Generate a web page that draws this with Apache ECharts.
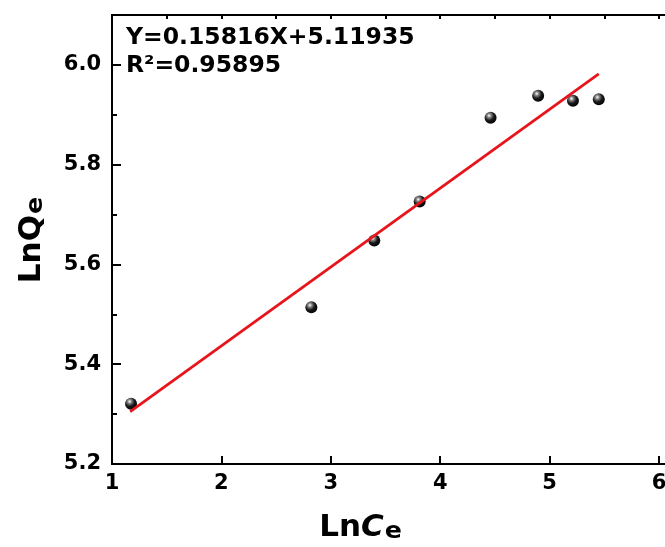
<!DOCTYPE html>
<html><head><meta charset="utf-8">
<script src="https://cdn.jsdelivr.net/npm/echarts@6/dist/echarts.min.js"></script>
<style>html,body{margin:0;padding:0;background:#fff}#c{width:665px;height:547px}</style>
</head><body><div id="c"></div>
<script>
// ---- data ----
const lnC = [1.174, 2.822, 3.397, 3.812, 4.460, 4.895, 5.213, 5.449];
const lnQ = [5.321, 5.514, 5.648, 5.726, 5.894, 5.938, 5.928, 5.931];
const fitX = [1.166, 5.449];
const fitY = [5.305, 5.982];
const xRange = [1, 6.1];
const yRange = [5.2, 6.1];
const eqText = 'Y=0.15816X+5.11935';
const r2Text = 'R²=0.95895';

const FONT = 'DejaVu Sans';
const chart = echarts.init(document.getElementById('c'), null, {renderer: 'canvas'});

const sphere = new echarts.graphic.RadialGradient(0.38, 0.32, 0.72, [
  {offset: 0, color: '#ffffff'},
  {offset: 0.22, color: '#8a8a8a'},
  {offset: 0.55, color: '#1a1a1a'},
  {offset: 1, color: '#000000'}
]);

const baseAxis = {
  axisLine: {show: true, lineStyle: {color: '#000', width: 2}},
  splitLine: {show: false}
};
const mainTok = {fontFamily: FONT, fontWeight: 'bold', fontSize: 31, color: '#000'};
const subTok = {fontFamily: FONT, fontWeight: 'bold', fontSize: 40, color: '#000'};

const option = {
  backgroundColor: '#fff',
  animation: false,
  grid: {left: 112, top: 15, width: 558, height: 449, show: true, borderColor: '#000', borderWidth: 2,
         containLabel: false, outerBoundsMode: 'none'},
  xAxis: [
    Object.assign({}, baseAxis, {
      type: 'value', min: xRange[0], max: xRange[1], interval: 1,
      axisTick: {show: true, inside: true, length: 8, lineStyle: {color: '#000', width: 2}},
      axisLabel: {color: '#000', fontFamily: FONT, fontWeight: 'bold', fontSize: 21, margin: 9,
        formatter: v => (v > 6.05 ? '' : String(v))},
      name: '{a|Ln}{i|C}{s|ₑ}',
      nameLocation: 'middle', nameGap: 44,
      nameTextStyle: {padding: [0, 60, 0, 0],
        rich: {a: mainTok, i: Object.assign({}, mainTok, {fontStyle: 'italic'}), s: subTok}}
    }),
    Object.assign({}, baseAxis, {
      type: 'value', min: xRange[0], max: xRange[1], interval: 0.5,
      axisLine: {show: false},
      axisTick: {show: true, inside: true, length: 4, lineStyle: {color: '#000', width: 2}},
      axisLabel: {show: false}
    })
  ],
  yAxis: [
    Object.assign({}, baseAxis, {
      type: 'value', min: yRange[0], max: yRange[1], interval: 0.2,
      axisTick: {show: true, inside: true, length: 9, lineStyle: {color: '#000', width: 2}},
      axisLabel: {color: '#000', fontFamily: FONT, fontWeight: 'bold', fontSize: 21, margin: 11,
        formatter: v => (v > 6.05 ? '' : v.toFixed(1))},
      name: '{a|LnQ}{s|ₑ}',
      nameLocation: 'middle', nameGap: 60, nameRotate: 90,
      nameTextStyle: {rich: {a: mainTok, s: subTok}}
    }),
    Object.assign({}, baseAxis, {
      type: 'value', min: yRange[0], max: yRange[1], interval: 0.1, position: 'left',
      axisLine: {show: false},
      axisTick: {show: true, inside: true, length: 5, lineStyle: {color: '#000', width: 2}},
      axisLabel: {show: false}
    })
  ],
  graphic: [
    {type: 'text', left: 126, top: 26, z: 100,
     style: {text: eqText, fontFamily: FONT, fontWeight: 'bold', fontSize: 23.5, fill: '#000'}},
    {type: 'text', left: 126, top: 54, z: 100,
     style: {text: r2Text, fontFamily: FONT, fontWeight: 'bold', fontSize: 23.5, fill: '#000'}}
  ],
  series: [
    {
      type: 'scatter', name: 'data', xAxisIndex: 0, yAxisIndex: 0,
      data: lnC.map((x, i) => [x, lnQ[i]]),
      symbol: 'circle', symbolSize: 12,
      itemStyle: {color: sphere, opacity: 1},
      z: 2
    },
    {
      type: 'line', name: 'fit', xAxisIndex: 0, yAxisIndex: 0,
      data: fitX.map((x, i) => [x, fitY[i]]),
      showSymbol: false, symbol: 'none',
      lineStyle: {color: '#e8141c', width: 2.8},
      z: 3
    }
  ]
};
chart.setOption(option);
</script>
</body></html>
